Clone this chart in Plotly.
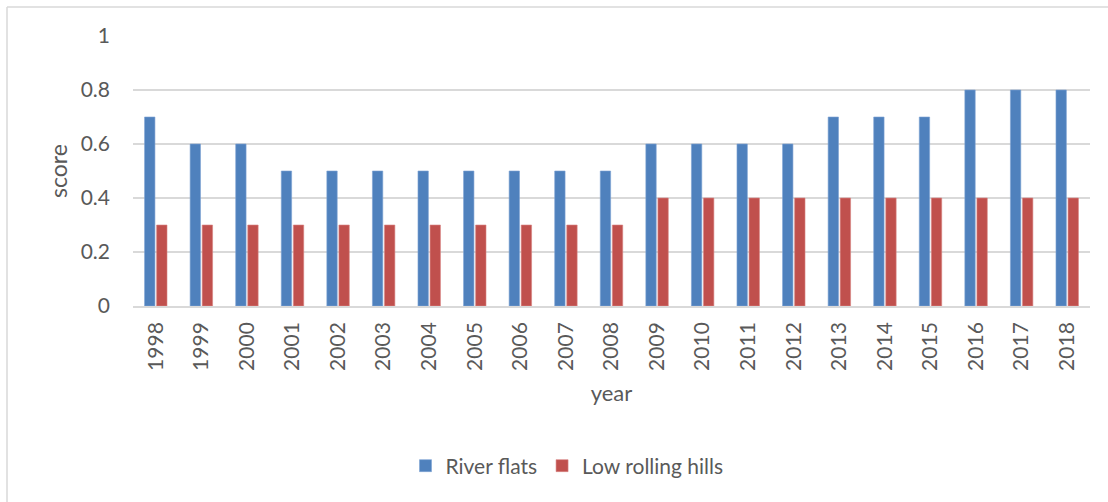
import plotly.graph_objects as go

years = [str(y) for y in range(1998, 2019)]
river_flats = [0.7, 0.6, 0.6, 0.5, 0.5, 0.5, 0.5, 0.5, 0.5, 0.5, 0.5,
               0.6, 0.6, 0.6, 0.6, 0.7, 0.7, 0.7, 0.8, 0.8, 0.8]
low_rolling_hills = [0.3, 0.3, 0.3, 0.3, 0.3, 0.3, 0.3, 0.3, 0.3, 0.3, 0.3,
                     0.4, 0.4, 0.4, 0.4, 0.4, 0.4, 0.4, 0.4, 0.4, 0.4]

TEXT = "#595959"
GRID = "#D9D9D9"
FONT = "Lato"

fig = go.Figure()
fig.add_trace(go.Bar(
    x=years, y=river_flats, name="River flats",
    marker=dict(color="#4F81BD", line=dict(color="#7EA3D3", width=0.6)),
))
fig.add_trace(go.Bar(
    x=years, y=low_rolling_hills, name="Low rolling hills",
    marker=dict(color="#C0504D", line=dict(color="#D88583", width=0.6)),
))

# plot area in pixels: left 133, right 1090, top 36, bottom 306
pw, ph = 957.0, 270.0
def px(x):
    return (x - 133) / pw
def py(y):
    return (306 - y) / ph

fig.update_layout(
    width=1108, height=502,
    margin=dict(l=133, r=18, t=36, b=196),
    paper_bgcolor="white", plot_bgcolor="white",
    font=dict(family=FONT, color=TEXT, size=21),
    barmode="group", bargap=0.47, bargroupgap=0.14,
    showlegend=True,
    legend=dict(orientation="h", x=px(567), y=py(466), xanchor="center", yanchor="middle",
                font=dict(size=21, color=TEXT), itemwidth=30, traceorder="normal"),
    xaxis=dict(
        type="category", tickangle=-90, showgrid=False,
        showline=True, linecolor=GRID, linewidth=1.5, ticks="",
        tickfont=dict(size=21, color=TEXT), ticklabelstandoff=6,
        title=dict(text="year", font=dict(size=22, color=TEXT), standoff=16),
    ),
    yaxis=dict(
        range=[0, 1], dtick=0.2, tick0=0, showgrid=True, gridcolor=GRID, gridwidth=1.5,
        zeroline=False, ticks="", showline=False,
        tickfont=dict(size=21, color=TEXT), ticklabelstandoff=22,
        title=dict(text="score", font=dict(size=23, color=TEXT), standoff=6),
    ),
    shapes=[
        dict(type="line", xref="paper", yref="paper", x0=px(7), x1=px(1110), y0=py(7), y1=py(7),
             line=dict(color=GRID, width=1.5)),
        dict(type="line", xref="paper", yref="paper", x0=px(7), x1=px(7), y0=py(7), y1=py(505),
             line=dict(color=GRID, width=1.5)),
    ],
)

fig.write_html("out.html")
